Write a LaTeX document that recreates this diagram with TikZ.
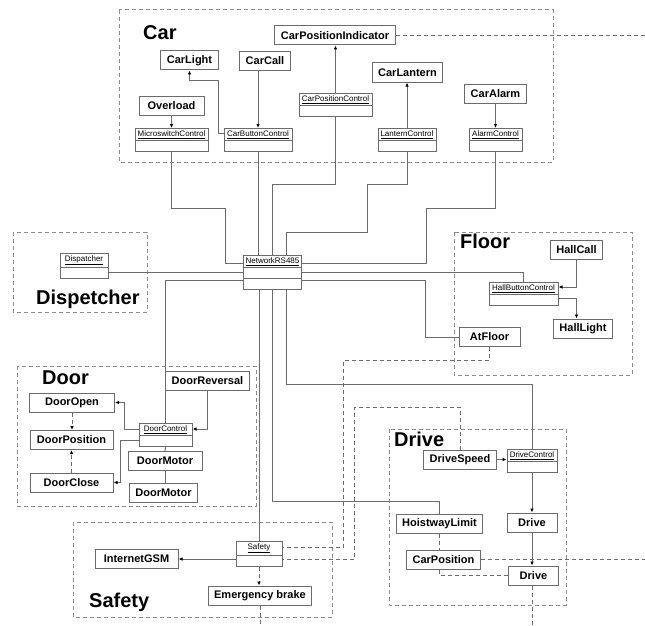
\documentclass[tikz,border=0pt]{standalone}
\usepackage{fontspec}
\setmainfont{Liberation Sans}
\usepackage{tikz}
\usetikzlibrary{arrows.meta, shapes.multipart}
\definecolor{linegray}{gray}{0.42}
\definecolor{framegray}{gray}{0.55}
\tikzstyle{pkgframe}=[draw=framegray, line width=1pt, dash pattern=on 4pt off 3pt]
\tikzstyle{pkglabel}=[anchor=base west, inner sep=0pt, font=\fontsize{20}{24}\selectfont\bfseries]
\tikzstyle{cls}=[draw=linegray, line width=1pt, fill=white, minimum height=19pt, inner xsep=6pt, inner ysep=2pt, font=\fontsize{11}{13}\selectfont\bfseries]
\tikzstyle{obj}=[draw=linegray, line width=1pt, fill=white, anchor=north, rectangle split, rectangle split parts=2, inner xsep=2pt, inner ysep=1.6pt, rectangle split empty part height=7pt, rectangle split empty part depth=0pt, font=\fontsize{8}{9}\selectfont]
\tikzstyle{link}=[draw=linegray, line width=1pt]
\tikzstyle{dep}=[link, dash pattern=on 4pt off 3pt]
\tikzstyle{headed}=[-{Latex[length=4pt, width=3.5pt, color=black]}]

\begin{document}
\begin{tikzpicture}[x=1pt, y=-1pt]
	\useasboundingbox (0, 0) rectangle (645, 626);
	\draw[pkgframe] (119, 10) rectangle (553, 162);
	\draw[pkgframe] (13, 232) rectangle (147, 312);
	\draw[pkgframe] (454, 232) rectangle (632, 375);
	\draw[pkgframe] (17, 366) rectangle (256, 506);
	\draw[pkgframe] (389, 429) rectangle (566, 605);
	\draw[pkgframe] (73, 522) rectangle (332, 617);
	\node (carlbl) at (143, 40) [pkglabel] {Car};
	\node (displbl) at (36, 304) [pkglabel] {Dispetcher};
	\node (floorlbl) at (460, 248) [pkglabel] {Floor};
	\node (doorlbl) at (42, 384) [pkglabel] {Door};
	\node (drivelbl) at (394, 446) [pkglabel] {Drive};
	\node (safetylbl) at (89, 607) [pkglabel] {Safety};

	\node (cpi) at (335, 35.5) [cls] {CarPositionIndicator};
	\node (clight) at (189.5, 60.5) [cls] {CarLight};
	\node (ccall) at (265, 61) [cls] {CarCall};
	\node (clantern) at (407.5, 72.5) [cls] {CarLantern};
	\node (calarm) at (495.5, 93.5) [cls] {CarAlarm};
	\node (overload) at (171.5, 105.5) [cls, minimum width=65pt] {Overload};
	\node (msc) at (171.5, 128) [obj, minimum width=73pt] {\underline{MicroswitchControl}\nodepart{two}};
	\node (cbc) at (258, 128) [obj, minimum width=68pt] {\underline{CarButtonControl}\nodepart{two}};
	\node (cpc) at (335.5, 93) [obj, minimum width=73pt] {\underline{CarPositionControl}\nodepart{two}};
	\node (lc) at (407, 128) [obj, minimum width=58pt] {\underline{LanternControl}\nodepart{two}};
	\node (ac) at (495.5, 128) [obj, minimum width=53pt] {\underline{AlarmControl}\nodepart{two}};

	\node (disp) at (84, 253) [obj, minimum width=48pt] {\underline{Dispatcher}\nodepart{two}};
	\node (net) at (272.5, 255) [obj, rectangle split parts=3, minimum width=58pt] {\underline{NetworkRS485}\nodepart{two}\nodepart{three}};

	\node (hbc) at (523.5, 282) [obj, minimum width=69pt] {\underline{HallButtonControl}\nodepart{two}};
	\node (hcall) at (576.5, 250) [cls] {HallCall};
	\node (hlight) at (583, 328.5) [cls] {HallLight};
	\node (atfloor) at (489.5, 337) [cls, minimum width=61pt] {AtFloor};

	\node (drev) at (207.5, 380.5) [cls] {DoorReversal};
	\node (dopen) at (72, 402.5) [cls, minimum width=85pt] {DoorOpen};
	\node (dpos) at (71.5, 440) [cls, minimum width=83pt] {DoorPosition};
	\node (dclose) at (71.5, 482.5) [cls, minimum width=83pt] {DoorClose};
	\node (dc) at (165.5, 423) [obj, minimum width=53pt] {\underline{DoorControl}\nodepart{two}};
	\node (dm1) at (165, 461) [cls, minimum width=74pt] {DoorMotor};
	\node (dm2) at (163.5, 492.5) [cls] {DoorMotor};

	\node (dspeed) at (460, 459.5) [cls] {DriveSpeed};
	\node (dctl) at (532, 449) [obj, minimum width=50pt] {\underline{DriveControl}\nodepart{two}};
	\node (drive1) at (532, 522.5) [cls, minimum width=50pt] {Drive};
	\node (drive2) at (533.5, 575.5) [cls, minimum width=50pt] {Drive};
	\node (hlimit) at (439.5, 524) [cls] {HoistwayLimit};
	\node (cpos) at (443.5, 559.5) [cls] {CarPosition};

	\node (safety) at (259, 541) [obj, minimum width=46pt] {\underline{Safety}\nodepart{two}};
	\node (igsm) at (136.5, 559) [cls, minimum width=83pt] {InternetGSM};
	\node (ebrake) at (260, 595.5) [cls] {Emergency brake};

	\coordinate (cpiend) at (645, 35.5);
	\coordinate (cposend) at (645, 559.5);
	\coordinate (driveend) at (532, 626);
	\coordinate (brakeend) at (260, 626);

	\draw[link, headed] (overload.south) -- (msc.north);
	\draw[link, headed] (cbc.west |- 0, 133) -- (218, 133) -- (218, 80) -| (clight.south);
	\draw[link, headed] (cbc.north |- ccall.south) -- (cbc.north);
	\draw[link, headed] (cpc.north) -- (cpc.north |- cpi.south);
	\draw[link, headed] (lc.north) -- (lc.north |- clantern.south);
	\draw[link, headed] (calarm.south) -- (ac.north);
	\draw[dep] (cpi.east) -- (cpiend);

	\draw[link] (msc.south) |- (225, 208) |- (net.west |- 0, 263);
	\draw[link] (cbc.south) -- (cbc.south |- net.north);
	\draw[link] (cpc.south) |- (net.north |- 0, 184) -- (net.north);
	\draw[link] (lc.south) |- (367, 184) |- (286, 232) -- (286, 255);
	\draw[link] (ac.south) |- (426, 208) |- (net.east |- 0, 263);
	\draw[link] (disp.east |- 0, 272) -- (net.west |- 0, 272);
	\draw[link] (net.east |- 0, 272) -| (hbc.north);
	\draw[link] (net.west |- 0, 280) -| (dc.north);
	\draw[link] (net.east |- 0, 280) -| (425, 337) -- (atfloor.west);
	\draw[link] (safety.north |- net.south) -- (safety.north);
	\draw[link] (net.south) |- (hlimit.north |- 0, 501) -- (hlimit.north);
	\draw[link] (net.south -| 286, 0) |- (dctl.north |- 0, 384) -- (dctl.north);

	\draw[link, headed] (hcall.south) |- (hbc.east |- 0, 287);
	\draw[link, headed] (hbc.east |- 0, 298) -| (hcall.south |- hlight.north);
	\draw[dep] (atfloor.south) |- (343, 360) |- (safety.east |- 0, 547);

	\draw[link, headed] (drev.south) |- (dc.east |- 0, 429);
	\draw[link, headed] (dc.west |- 0, 429) -- (124, 429) |- (dopen.east);
	\draw[link, headed] (dc.west |- 0, 440) -- (120, 440) |- (dclose.east);
	\draw[dep, headed] (dopen.south) -- (dopen.south |- dpos.north);
	\draw[dep, headed] (dclose.north) -- (dclose.north |- dpos.south);
	\draw[link] (dc.south) -- (dm1.north);
	\draw[link] (dm1.south) -- (dm1.south |- dm2.north);

	\draw[dep] (dspeed.north) |- (354, 407) |- (safety.east |- 0, 559);
	\draw[link, headed] (dspeed.east) -- (dctl.west |- dspeed.east);
	\draw[link, headed] (dctl.south) -- (dctl.south |- drive1.north);
	\draw[link, headed] (drive1.south) -- (drive1.south |- drive2.north);
	\draw[dep] (drive1.south |- drive2.south) -- (driveend);
	\draw[dep] (hlimit.south) -- (hlimit.south |- cpos.north);
	\draw[dep] (cpos.east) -- (cposend);
	\draw[dep] (hlimit.south |- cpos.south) |- (drive2.west);

	\draw[link, headed] (safety.west |- igsm.east) -- (igsm.east);
	\draw[dep, headed] (safety.south) -- (safety.south |- ebrake.north);
	\draw[dep] (ebrake.south) -- (brakeend);
\end{tikzpicture}
\end{document}
